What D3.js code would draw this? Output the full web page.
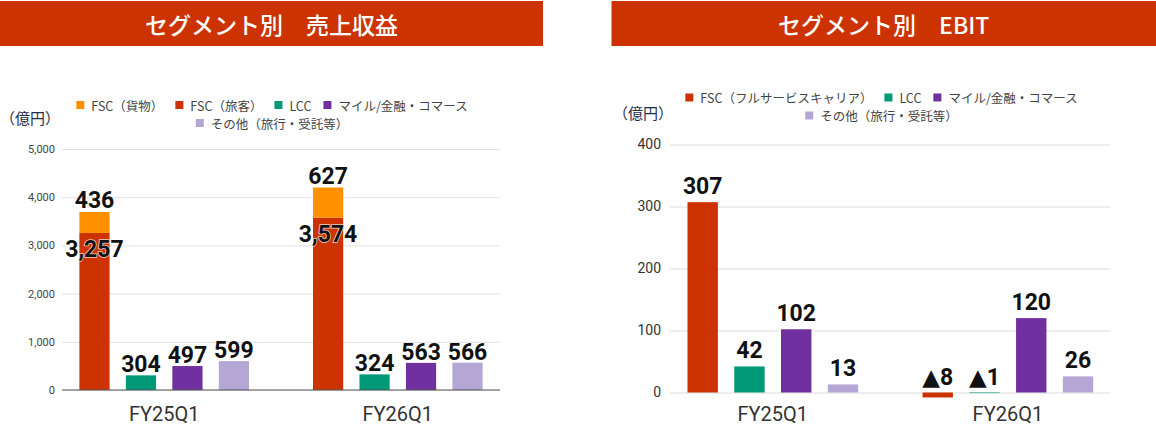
<!DOCTYPE html>
<html><head><meta charset="utf-8">
<script src="https://cdn.jsdelivr.net/npm/d3@7/dist/d3.min.js"></script>
<style>
html,body{margin:0;padding:0;background:#fff;}
svg{display:block;}
</style>
</head><body>
<svg id="chart" width="1156" height="429"></svg>
<script>
// ---------- data ----------
const categories = ["FY25Q1", "FY26Q1"];

const revTitle = "セグメント別\u3000売上収益";
const revSegments = ["FSC（貨物）", "FSC（旅客）", "LCC", "マイル/金融・コマース", "その他（旅行・受託等）"];
const revCargo = [436, 627];
const revPassenger = [3257, 3574];
const revLCC = [304, 324];
const revMile = [497, 563];
const revOther = [599, 566];
const revTicks = [0, 1000, 2000, 3000, 4000, 5000];

const ebitTitle = "セグメント別\u3000EBIT";
const ebitSegments = ["FSC（フルサービスキャリア）", "LCC", "マイル/金融・コマース", "その他（旅行・受託等）"];
const ebitFSC = [307, -8];
const ebitLCC = [42, -1];
const ebitMile = [102, 120];
const ebitOther = [13, 26];
const ebitTicks = [0, 100, 200, 300, 400];

const unitLabel = "（億円）";

// ---------- styles ----------
const COL = {cargo: "#FF9100", fsc: "#CC3300", lcc: "#009977", mile: "#7030A0", other: "#B4A7D6", header: "#CC3300"};
const JP = "'Noto Sans CJK JP', 'Noto Sans', sans-serif";
const NUM = "Roboto, 'DejaVu Sans', sans-serif";

const svg = d3.select("#chart");

function header(x0, x1, text) {
  svg.append("rect").attr("x", x0).attr("y", 1).attr("width", x1 - x0).attr("height", 45).attr("fill", COL.header);
  svg.append("text").attr("x", (x0 + x1) / 2).attr("y", 23.5).attr("text-anchor", "middle")
    .attr("dominant-baseline", "central").attr("fill", "#fff").attr("font-family", JP)
    .attr("font-size", 23).attr("font-weight", 500).text(text);
}

function legend(cx, y0, items, maxW) {
  const g = svg.append("g");
  const rows = [[]];
  let w = 0;
  const tmp = [];
  items.forEach(it => {
    const t = g.append("text").attr("font-family", JP).attr("font-size", 12.5).attr("fill", "#444").text(it.label);
    const tw = t.node().getComputedTextLength();
    t.remove();
    const iw = 8 + 7 + tw;
    if (rows[rows.length - 1].length && w + 12 + iw > maxW) { rows.push([]); w = 0; }
    const row = rows[rows.length - 1];
    w += (row.length ? 12 : 0) + iw;
    row.push({it, tw, iw});
  });
  rows.forEach((row, ri) => {
    const total = d3.sum(row, d => d.iw) + 12 * (row.length - 1);
    let x = cx - total / 2;
    const y = y0 + ri * 18;
    row.forEach(d => {
      g.append("rect").attr("x", x).attr("y", y - 4).attr("width", 8).attr("height", 8).attr("fill", d.it.color);
      g.append("text").attr("x", x + 15).attr("y", y).attr("dominant-baseline", "central")
        .attr("font-family", JP).attr("font-size", 12.5).attr("fill", "#444").text(d.it.label);
      x += d.iw + 12;
    });
  });
}

function valueLabel(g, x, y, text, halo) {
  const t = g.append("text").attr("x", x).attr("y", y).attr("text-anchor", "middle")
    .attr("font-family", NUM).attr("font-size", 23).attr("font-weight", 700).attr("fill", "#111").text(text);
  if (halo) t.attr("stroke", "rgba(255,255,255,0.75)").attr("stroke-width", 1.6).attr("paint-order", "stroke");
  return t;
}

// ================= Revenue chart =================
header(0, 543, revTitle);
svg.append("text").attr("x", 0).attr("y", 117).attr("dominant-baseline", "central")
  .attr("font-family", JP).attr("font-size", 15).attr("fill", "#1f2d4d").text(unitLabel);
legend(272, 105, revSegments.map((s, i) => ({label: s, color: [COL.cargo, COL.fsc, COL.lcc, COL.mile, COL.other][i]})), 420);

{
  const yR = d3.scaleLinear().domain([0, 5000]).range([390, 149]);
  const x0 = d3.scaleBand().domain(categories).range([62, 500]).paddingInner(0.25).paddingOuter(0.0625);
  const subKeys = ["fsc", "lcc", "mile", "other"];
  const x1 = d3.scaleBand().domain(subKeys).range([0, x0.bandwidth()]).paddingInner(0.35).paddingOuter(0.06);

  const ax = svg.append("g").attr("transform", `translate(62,0)`)
    .call(d3.axisLeft(yR).tickValues(revTicks).tickFormat(d3.format(",")).tickSize(-(500 - 62)).tickPadding(7));
  ax.select(".domain").remove();
  ax.selectAll("line").attr("stroke", "#e2e2e2");
  ax.selectAll("text").attr("font-family", NUM).attr("font-size", 11).attr("fill", "#444");

  const table = categories.map((c, i) => ({cat: c, passenger: revPassenger[i], cargo: revCargo[i], lcc: revLCC[i], mile: revMile[i], other: revOther[i]}));
  const stack = d3.stack().keys(["passenger", "cargo"])(table);
  const g = svg.append("g");
  const stackColor = {passenger: COL.fsc, cargo: COL.cargo};
  stack.forEach(layer => {
    g.selectAll(null).data(layer).join("rect")
      .attr("x", d => x0(d.data.cat) + x1("fsc")).attr("width", x1.bandwidth())
      .attr("y", d => yR(d[1])).attr("height", d => yR(d[0]) - yR(d[1]))
      .attr("fill", stackColor[layer.key]);
  });
  ["lcc", "mile", "other"].forEach(k => {
    g.selectAll(null).data(table).join("rect")
      .attr("x", d => x0(d.cat) + x1(k)).attr("width", x1.bandwidth())
      .attr("y", d => yR(d[k])).attr("height", d => yR(0) - yR(d[k])).attr("fill", COL[k]);
  });
  g.append("line").attr("x1", 62).attr("x2", 500).attr("y1", yR(0)).attr("y2", yR(0)).attr("stroke", "#555").attr("stroke-width", 1.2);

  const fmt = d3.format(",");
  table.forEach(d => {
    const cxF = x0(d.cat) + x1("fsc") + x1.bandwidth() / 2;
    valueLabel(g, cxF, yR(d.passenger + d.cargo) - 4, fmt(d.cargo));
    valueLabel(g, cxF, yR(d.passenger) + 24, fmt(d.passenger), true);
    ["lcc", "mile", "other"].forEach(k => {
      valueLabel(g, x0(d.cat) + x1(k) + x1.bandwidth() / 2, yR(d[k]) - 3, fmt(d[k]));
    });
    svg.append("text").attr("x", x0(d.cat) + x0.bandwidth() / 2).attr("y", 421).attr("text-anchor", "middle")
      .attr("font-family", NUM).attr("font-size", 20).attr("fill", "#333").text(d.cat);
  });
}

// ================= EBIT chart =================
header(611.5, 1156, ebitTitle);
svg.append("text").attr("x", 613).attr("y", 112).attr("dominant-baseline", "central")
  .attr("font-family", JP).attr("font-size", 15).attr("fill", "#1f2d4d").text(unitLabel);
legend(881.5, 97.5, ebitSegments.map((s, i) => ({label: s, color: [COL.fsc, COL.lcc, COL.mile, COL.other][i]})), 420);

{
  const yE = d3.scaleLinear().domain([0, 400]).range([392.5, 144.5]);
  const x0 = d3.scaleBand().domain(categories).range([670, 1110.7]).paddingInner(0.25).paddingOuter(0.0625);
  const subKeys = ["fsc", "lcc", "mile", "other"];
  const x1 = d3.scaleBand().domain(subKeys).range([0, x0.bandwidth()]).paddingInner(0.35).paddingOuter(0.06);

  const ax = svg.append("g").attr("transform", `translate(670,0)`)
    .call(d3.axisLeft(yE).tickValues(ebitTicks).tickSize(-(1110.7 - 670)).tickPadding(9));
  ax.select(".domain").remove();
  ax.selectAll("line").attr("stroke", "#dcdcdc");
  ax.selectAll("text").attr("font-family", NUM).attr("font-size", 14).attr("fill", "#333");

  const table = categories.map((c, i) => ({cat: c, fsc: ebitFSC[i], lcc: ebitLCC[i], mile: ebitMile[i], other: ebitOther[i]}));
  const g = svg.append("g");
  const fmt = v => v < 0 ? "▲" + Math.abs(v) : String(v);
  subKeys.forEach(k => {
    g.selectAll(null).data(table).join("rect")
      .attr("x", d => x0(d.cat) + x1(k)).attr("width", x1.bandwidth())
      .attr("y", d => yE(Math.max(0, d[k]))).attr("height", d => Math.abs(yE(d[k]) - yE(0)))
      .attr("fill", COL[k]);
  });
  table.forEach(d => {
    subKeys.forEach(k => {
      valueLabel(g, x0(d.cat) + x1(k) + x1.bandwidth() / 2, yE(Math.max(0, d[k])) - 8, fmt(d[k]));
    });
    svg.append("text").attr("x", x0(d.cat) + x0.bandwidth() / 2).attr("y", 421).attr("text-anchor", "middle")
      .attr("font-family", NUM).attr("font-size", 20).attr("fill", "#333").text(d.cat);
  });
}
</script>
</body></html>
